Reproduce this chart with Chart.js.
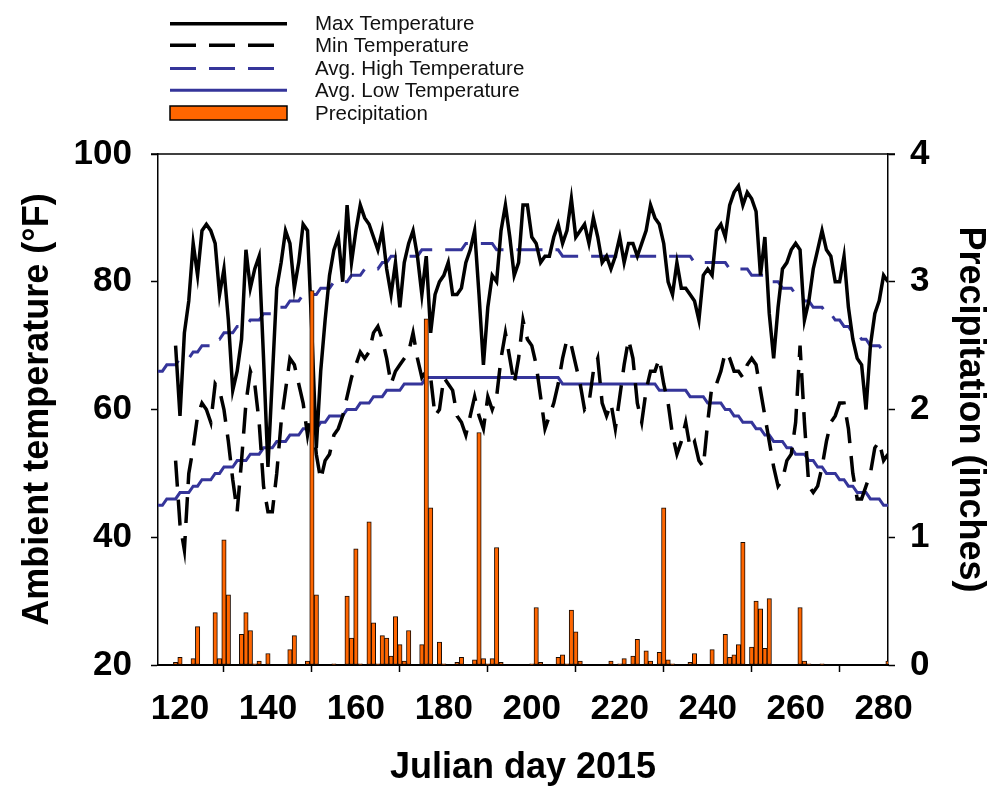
<!DOCTYPE html>
<html>
<head>
<meta charset="utf-8">
<title>Ambient temperature and precipitation, 2015</title>
<script src="https://cdn.jsdelivr.net/npm/chart.js@4.4.1/dist/chart.umd.min.js"></script>
<style>
  html, body { margin: 0; padding: 0; background: #fff; }
  #wrap { width: 997px; height: 793px; }
</style>
</head>
<body>
<div id="wrap"><canvas id="weatherChart" width="997" height="793"></canvas></div>
<script>
// Daily max / min temperature (F), one value per day starting at day 119
const obsStartDay = 119;
const maxTemp = [
  70, 59, 72, 77, 86, 81, 88, 89, 88, 86,   // 119-128
  78, 82, 74, 63, 66, 71, 85, 79, 82, 84,   // 129-138
  68, 51, 65, 79, 83, 88, 86, 79, 83, 89,   // 139-148
  88, 72, 54, 66, 74, 81, 85, 87, 80, 92,   // 149-158
  83, 88, 92, 90, 89, 87, 85, 88, 82, 78,   // 159-168
  83, 76, 83, 86, 88, 84, 78, 84, 72, 78,   // 169-178
  80, 81, 83, 78, 78, 79, 83, 85, 88, 78,   // 179-188
  67, 76, 81, 80, 88, 92, 87, 81, 83, 92,   // 189-198
  92, 87, 86, 83, 84, 84, 87, 89, 86, 88,   // 199-208
  93, 87, 88, 89, 86, 90, 87, 83, 84, 82,   // 209-218
  84, 87, 83, 86, 86, 84, 86, 88, 92, 90,   // 219-228
  89, 86, 80, 78, 83, 79, 79, 78, 77, 74,   // 229-238
  81, 82, 81, 88, 89, 87, 92, 94, 95, 92,   // 239-248
  94, 93, 91, 81, 87, 75, 68, 76, 82, 83,   // 249-258
  85, 86, 85, 74, 77, 82, 85, 88, 85, 84,   // 259-268
  80, 80, 84, 76, 71, 68, 67, 60, 70, 75,   // 269-278
  77, 81, 80                                // 279-281
];
const minTemp = [
  52, 42, 38, 50, 54, 59, 61, 60, 58, 64,   // 119-128
  63, 60, 55, 49, 44, 52, 61, 66, 64, 58,   // 129-138
  48, 44, 44, 50, 58, 63, 68, 67, 64, 61,   // 139-148
  56, 60, 53, 49, 52, 53, 56, 57, 59, 62,   // 149-158
  65, 67, 69, 68, 69, 72, 73, 71, 68, 64,   // 159-168
  66, 67, 68, 69, 72, 68, 65, 66, 65, 59,   // 169-178
  60, 65, 64, 63, 59, 58, 56, 59, 62, 59,   // 179-188
  57, 62, 60, 62, 68, 72, 68, 64, 68, 74,   // 189-198
  71, 70, 67, 62, 57, 59, 61, 64, 68, 71,   // 199-208
  70, 67, 64, 60, 61, 66, 68, 61, 59, 61,   // 209-218
  57, 62, 67, 71, 68, 61, 58, 63, 66, 66,   // 219-228
  68, 64, 61, 56, 53, 55, 58, 54, 55, 52,   // 229-238
  51, 58, 64, 64, 66, 69, 68, 66, 66, 65,   // 239-248
  67, 68, 67, 63, 59, 55, 51, 48, 49, 52,   // 249-258
  53, 58, 70, 58, 48, 47, 48, 51, 55, 58,   // 259-268
  59, 61, 61, 57, 50, 46, 46, 48, 50, 54,   // 269-278
  55, 52, 53                                // 279-281
];

// 30-year average high / low (F), one value per day starting at day 115
const normStartDay = 115;
const avgHigh = [
  66, 66, 67, 67, 67, 68, 68, 68, 69, 69,   // 115-124
  70, 70, 70, 71, 71, 72, 72, 72, 73, 73,   // 125-134
  73, 74, 74, 74, 75, 75, 75, 76, 76, 76,   // 135-144
  77, 77, 77, 78, 78, 78, 78, 79, 79, 79,   // 145-154
  80, 80, 80, 80, 81, 81, 81, 82, 82, 82,   // 155-164
  82, 83, 83, 84, 84, 84, 84, 84, 84, 84,   // 165-174
  85, 85, 85, 85, 85, 85, 85, 85, 85, 85,   // 175-184
  86, 86, 86, 86, 86, 86, 86, 85, 85, 85,   // 185-194
  85, 85, 85, 85, 85, 85, 85, 85, 85, 85,   // 195-204
  85, 85, 84, 84, 84, 84, 84, 84, 84, 84,   // 205-214
  84, 84, 84, 84, 84, 84, 84, 84, 84, 84,   // 215-224
  84, 84, 84, 84, 84, 84, 84, 84, 84, 84,   // 225-234
  84, 84, 83, 83, 83, 83, 83, 83, 83, 83,   // 235-244
  82, 82, 82, 82, 82, 81, 81, 81, 81, 80,   // 245-254
  80, 80, 79, 79, 79, 78, 78, 77, 77, 76,   // 255-264
  76, 76, 75, 75, 74, 74, 73, 73, 72, 72,   // 265-274
  71, 71, 70, 70, 70, 69, 69                // 275-281
];
const avgLow = [
  45, 45, 46, 46, 46, 47, 47, 47, 48, 48,   // 115-124
  49, 49, 49, 50, 50, 51, 51, 51, 52, 52,   // 125-134
  52, 53, 53, 53, 54, 54, 54, 55, 55, 55,   // 135-144
  56, 56, 56, 57, 57, 57, 57, 58, 58, 59,   // 145-154
  59, 59, 59, 60, 60, 60, 61, 61, 61, 62,   // 155-164
  62, 62, 63, 63, 63, 63, 64, 64, 64, 64,   // 165-174
  64, 65, 65, 65, 65, 65, 65, 65, 65, 65,   // 175-184
  65, 65, 65, 65, 65, 65, 65, 65, 65, 65,   // 185-194
  65, 65, 65, 65, 65, 65, 65, 65, 65, 65,   // 195-204
  65, 65, 64, 64, 64, 64, 64, 64, 64, 64,   // 205-214
  64, 64, 64, 64, 64, 64, 64, 64, 64, 64,   // 215-224
  64, 64, 64, 64, 63, 63, 63, 63, 63, 63,   // 225-234
  63, 62, 62, 62, 62, 61, 61, 61, 61, 60,   // 235-244
  60, 59, 59, 58, 58, 58, 57, 57, 56, 56,   // 245-254
  55, 55, 55, 54, 54, 53, 53, 53, 52, 52,   // 255-264
  51, 51, 50, 50, 50, 49, 49, 48, 48, 47,   // 265-274
  47, 47, 46, 46, 46, 45, 45                // 275-281
];

// Daily precipitation (inches), only days with rain
const precipDays = [
  119, 120, 123, 124, 128, 129, 130, 131, 134, 135, 136, 137, 138, 140, 145, 146,
  149, 150, 151, 155, 158, 159, 160, 161, 163, 164, 165, 166, 167, 168, 169, 170,
  171, 172, 175, 176, 177, 179, 180, 183, 184, 187, 188, 189, 190, 191, 192, 193,
  200, 201, 202, 206, 207, 208, 209, 210, 211, 218, 220, 221, 223, 224, 226, 227,
  229, 230, 231, 232, 236, 237, 241, 244, 245, 246, 247, 248, 250, 251, 252, 253,
  254, 261, 262, 263, 266, 281
];
const precipIn = [
  0.02, 0.06, 0.05, 0.30, 0.41, 0.05, 0.98, 0.55, 0.24, 0.41, 0.27, 0.01, 0.03, 0.09, 0.12, 0.23,
  0.03, 2.93, 0.55, 0.01, 0.54, 0.21, 0.91, 0.01, 1.12, 0.33, 0.01, 0.23, 0.21, 0.07, 0.38, 0.16,
  0.03, 0.27, 0.16, 2.71, 1.23, 0.18, 0.01, 0.02, 0.06, 0.04, 1.82, 0.05, 0.01, 0.05, 0.92, 0.02,
  0.01, 0.45, 0.02, 0.06, 0.08, 0.01, 0.43, 0.26, 0.03, 0.03, 0.01, 0.05, 0.07, 0.20, 0.11, 0.03,
  0.10, 1.23, 0.04, 0.01, 0.02, 0.09, 0.12, 0.24, 0.06, 0.08, 0.16, 0.96, 0.14, 0.50, 0.44, 0.13,
  0.52, 0.45, 0.03, 0.01, 0.01, 0.03
];

const tempTicks = [20, 40, 60, 80, 100];
const precipTicks = [0, 1, 2, 3, 4];
const dayTicks = [120, 140, 160, 180, 200, 220, 240, 260, 280];

const FONT = '"Liberation Sans", Arial, Helvetica, sans-serif';
const BLUE = '#35359a';
const ORANGE = '#ff6600';

Chart.defaults.font.family = FONT;
Chart.defaults.color = '#000';

function toPoints(startDay, values) {
    return values.map((v, i) => ({ x: startDay + i, y: v }));
}

const lineStyle = {
    type: 'line',
    yAxisID: 'y',
    pointRadius: 0,
    tension: 0,
    fill: false,
    borderCapStyle: 'butt',
    borderJoinStyle: 'miter'
};

// top frame line (Chart.js has no top border on its own)
const framePlugin = {
    id: 'frame',
    afterDatasetsDraw(chart) {
        const { ctx, chartArea } = chart;
        ctx.save();
        ctx.strokeStyle = '#000';
        ctx.lineWidth = 1.5;
        ctx.beginPath();
        ctx.moveTo(chartArea.left - 7, chartArea.top);
        ctx.lineTo(chartArea.right + 7, chartArea.top);
        ctx.stroke();
        ctx.restore();
    }
};

// legend stacked one item per row in the upper left
const legendPlugin = {
    id: 'stackedLegend',
    afterDraw(chart) {
        const ctx = chart.ctx;
        const rowY = [23.7, 45.3, 68.5, 90.3, 113];
        const x0 = 170, x1 = 287, textX = 315;
        ctx.save();
        chart.data.datasets.forEach((ds, i) => {
            const y = rowY[i];
            if (ds.type === 'bar') {
                ctx.fillStyle = ds.backgroundColor;
                ctx.fillRect(x0, y - 7, x1 - x0, 14);
                ctx.strokeStyle = '#000';
                ctx.lineWidth = 1.5;
                ctx.setLineDash([]);
                ctx.strokeRect(x0, y - 7, x1 - x0, 14);
            } else {
                ctx.strokeStyle = ds.borderColor;
                ctx.lineWidth = ds.borderWidth;
                ctx.setLineDash(ds.borderDash || []);
                ctx.beginPath();
                ctx.moveTo(x0, y);
                ctx.lineTo(x1, y);
                ctx.stroke();
            }
            ctx.setLineDash([]);
            ctx.fillStyle = '#111';
            ctx.font = '20.5px ' + FONT;
            ctx.textAlign = 'left';
            ctx.textBaseline = 'middle';
            ctx.fillText(ds.label, textX, y + 1);
        });
        ctx.restore();
    }
};

const ctx = document.getElementById('weatherChart');

new Chart(ctx, {
    type: 'line',
    data: {
        datasets: [
            Object.assign({}, lineStyle, {
                label: 'Max Temperature',
                data: toPoints(obsStartDay, maxTemp),
                borderColor: '#000',
                borderWidth: 3.5,
                order: 2
            }),
            Object.assign({}, lineStyle, {
                label: 'Min Temperature',
                data: toPoints(obsStartDay, minTemp),
                borderColor: '#000',
                borderWidth: 3.5,
                borderDash: [26, 13],
                order: 1
            }),
            Object.assign({}, lineStyle, {
                label: 'Avg. High Temperature',
                data: toPoints(normStartDay, avgHigh),
                borderColor: BLUE,
                borderWidth: 3,
                borderDash: [26, 13],
                order: 3
            }),
            Object.assign({}, lineStyle, {
                label: 'Avg. Low Temperature',
                data: toPoints(normStartDay, avgLow),
                borderColor: BLUE,
                borderWidth: 3,
                order: 4
            }),
            {
                type: 'bar',
                label: 'Precipitation',
                yAxisID: 'y1',
                data: precipDays.map((d, i) => ({ x: d, y: precipIn[i] })),
                backgroundColor: ORANGE,
                borderColor: '#1a0a00',
                borderWidth: 1,
                borderSkipped: false,
                barPercentage: 1,
                categoryPercentage: 1,
                order: 0
            }
        ]
    },
    options: {
        responsive: false,
        animation: false,
        devicePixelRatio: 1,
        layout: { padding: { top: 154, left: 0, right: 0, bottom: 0 } },
        plugins: {
            legend: { display: false },
            tooltip: { enabled: false }
        },
        scales: {
            x: {
                type: 'linear',
                min: 115,
                max: 281,
                offset: false,
                afterBuildTicks: s => { s.ticks = dayTicks.map(v => ({ value: v })); },
                afterFit: s => { s.height = 128; },
                ticks: {
                    font: { size: 35, weight: 'bold' },
                    padding: 16,
                    maxRotation: 0,
                    autoSkip: false
                },
                grid: { drawOnChartArea: false, drawTicks: true, tickLength: 7, tickColor: '#000', tickWidth: 1.5 },
                border: { display: true, color: '#000', width: 2 },
                title: {
                    display: true,
                    text: 'Julian day 2015',
                    font: { size: 36, weight: 'bold' },
                    padding: { top: 0, bottom: 3.5 }
                }
            },
            y: {
                position: 'left',
                min: 20,
                max: 100,
                afterBuildTicks: s => { s.ticks = tempTicks.map(v => ({ value: v })); },
                afterFit: s => { s.width = 158; },
                ticks: { font: { size: 35, weight: 'bold' }, padding: 19 },
                grid: { drawOnChartArea: false, drawTicks: true, tickLength: 7, tickColor: '#000', tickWidth: 1.5 },
                border: { display: true, color: '#000', width: 1.5 },
                title: {
                    display: true,
                    text: 'Ambient temperature (\u00b0F)',
                    font: { size: 36, weight: 'bold' },
                    padding: { top: 16.5, bottom: 0 }
                }
            },
            y1: {
                position: 'right',
                min: 0,
                max: 4,
                afterBuildTicks: s => { s.ticks = precipTicks.map(v => ({ value: v })); },
                afterFit: s => { s.width = 109; },
                ticks: { font: { size: 35, weight: 'bold' }, padding: 15 },
                grid: { drawOnChartArea: false, drawTicks: true, tickLength: 7, tickColor: '#000', tickWidth: 1.5 },
                border: { display: true, color: '#000', width: 1.5 },
                title: {
                    display: true,
                    text: 'Precipitation (inches)',
                    font: { size: 36, weight: 'bold' },
                    padding: { top: 5.5, bottom: 0 }
                }
            }
        }
    },
    plugins: [framePlugin, legendPlugin]
});
</script>
</body>
</html>
